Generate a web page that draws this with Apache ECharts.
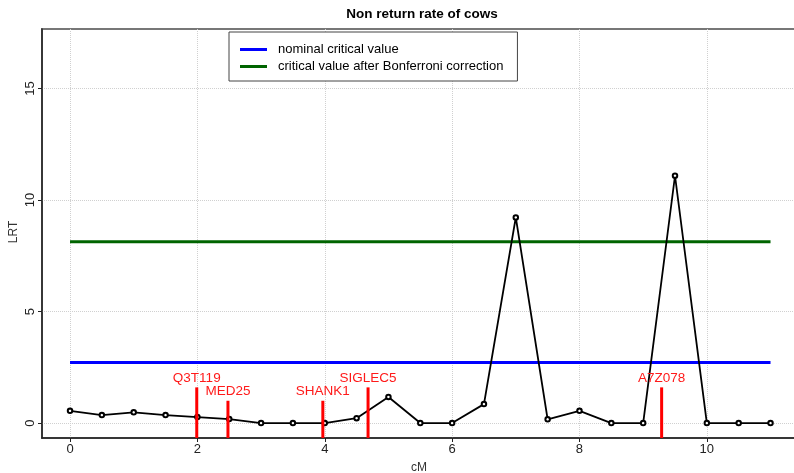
<!DOCTYPE html>
<html>
<head>
<meta charset="utf-8">
<script src="https://cdn.jsdelivr.net/npm/echarts@6/dist/echarts.min.js"></script>
<style>
    html, body { margin: 0; padding: 0; background: #fff; }
    #chart { width: 794px; height: 473px; }
</style>
</head>
<body>
<div id="chart"></div>
<script>
// LRT profile along the chromosome (cM)
const positions = [0, 0.5, 1, 1.5, 2, 2.5, 3, 3.5, 4, 4.5, 5, 5.5, 6, 6.5, 7, 7.5, 8, 8.5, 9, 9.5, 10, 10.5, 11]
const lrtValues = [0.55, 0.36, 0.48, 0.36, 0.27, 0.18, 0, 0, 0, 0.22, 1.17, 0, 0, 0.85, 9.22, 0.17, 0.55, 0, 0, 11.09, 0, 0, 0]

// threshold lines
const thresholdNames = ["nominal critical value", "critical value after Bonferroni correction"]
const thresholdValues = [2.71, 8.13]
const thresholdColors = ["#0000ff", "#006400"]
const thresholdSpan = [0, 11]

// gene markers
const markerNames = ["Q3T119", "MED25", "SHANK1", "SIGLEC5", "A7Z078"]
const markerPos = [1.99, 2.48, 3.97, 4.68, 9.29]
const markerHeight = [1.6, 1.0, 1.0, 1.6, 1.6]

const xTicks = [0, 2, 4, 6, 8, 10]
const yTicks = [0, 5, 10, 15]

const Y_MIN = -0.67
const Y_MAX = 17.67

const font = "'Liberation Sans', Arial, Helvetica, sans-serif"

let chart = echarts.init(document.getElementById("chart"))

const lineData = positions.map((x, i) => [x, lrtValues[i]])

const thresholdSeries = thresholdNames.map((name, i) => {
    return {
        name: name,
        type: "line",
        data: thresholdSpan.map(x => [x, thresholdValues[i]]),
        symbol: "none",
        lineStyle: { color: thresholdColors[i], width: 3 },
        itemStyle: { color: thresholdColors[i] },
        z: 3,
    }
})

chart.setOption({
    animation: false,
    backgroundColor: "#fff",
    textStyle: { fontFamily: font },
    title: {
        text: "Non return rate of cows",
        left: 417,
        top: 2,
        textAlign: "center",
        textStyle: { fontSize: 13.5, fontWeight: "bold", color: "#000", fontFamily: font },
    },
    legend: {
        data: thresholdNames,
        orient: "vertical",
        left: 229,
        top: 32,
        itemWidth: 27,
        itemHeight: 3,
        itemGap: 4,
        padding: [11, 14, 8, 11],
        borderColor: "#444",
        borderWidth: 1,
        backgroundColor: "#fff",
        icon: "rect",
        textStyle: { fontSize: 13, color: "#000", fontFamily: font, padding: [0, 0, 0, 6] },
    },
    // y axis title, placed by hand (axis name gap would not go closer)
    graphic: [
        {
            type: "text",
            x: 14,
            y: 232,
            rotation: Math.PI / 2,
            style: {
                text: "LRT",
                fontSize: 12,
                fill: "#333",
                fontFamily: font,
                align: "center",
                verticalAlign: "middle",
            },
        },
    ],
    grid: {
        left: 42,
        right: -2,
        top: 29,
        bottom: 35,
        outerBoundsMode: "none",
        containLabel: false,
        show: true,
        borderColor: "#777",
        borderWidth: 2,
        backgroundColor: "transparent",
    },
    xAxis: {
        type: "value",
        min: -0.44,
        max: 11.4,
        name: "cM",
        nameLocation: "middle",
        nameGap: 24,
        nameTextStyle: { fontSize: 12, color: "#333", fontFamily: font },
        axisLine: { show: true, onZero: false, lineStyle: { color: "#222", width: 1.5 } },
        axisTick: { show: true, customValues: xTicks, length: 4, lineStyle: { color: "#222" } },
        axisLabel: { customValues: xTicks, fontSize: 13, color: "#222", margin: 5, fontFamily: font },
        splitLine: { show: true, lineStyle: { color: "#d0d0d0", type: "dotted", width: 1 } },
    },
    yAxis: {
        type: "value",
        min: Y_MIN,
        max: Y_MAX,
        axisLine: { show: true, onZero: false, lineStyle: { color: "#222", width: 1.5 } },
        axisTick: { show: true, customValues: yTicks, length: 4, lineStyle: { color: "#222" } },
        axisLabel: { customValues: yTicks, rotate: 90, fontSize: 13, color: "#222", margin: 5, fontFamily: font },
        splitLine: { show: true, lineStyle: { color: "#d0d0d0", type: "dotted", width: 1 } },
    },
    series: [
        ...thresholdSeries,
        {
            name: "LRT",
            type: "line",
            data: lineData,
            symbol: "emptyCircle",
            symbolSize: 4.5,
            lineStyle: { color: "#000", width: 1.8 },
            itemStyle: { color: "#000", borderWidth: 1.5, borderColor: "#000" },
            z: 4,
        },
        {
            // gene positions: red ticks rising from the x axis with labels
            name: "markers",
            type: "custom",
            data: markerPos.map((x, i) => [x, markerHeight[i], markerNames[i]]),
            renderItem: (params, api) => {
                const top = api.coord([api.value(0), api.value(1)])
                const bottom = api.coord([api.value(0), Y_MIN])
                return {
                    type: "group",
                    children: [
                        {
                            type: "line",
                            shape: { x1: top[0], y1: bottom[1], x2: top[0], y2: top[1] },
                            style: { stroke: "#ff0000", lineWidth: 3 },
                        },
                        {
                            type: "text",
                            x: top[0],
                            y: top[1] - 2,
                            style: {
                                text: markerNames[params.dataIndex],
                                fill: "#ff1a1a",
                                fontSize: 13.5,
                                fontFamily: font,
                                align: "center",
                                verticalAlign: "bottom",
                            },
                        },
                    ],
                }
            },
            z: 5,
        },
    ],
})

window.addEventListener("resize", function () {
    chart.resize()
})
</script>
</body>
</html>
